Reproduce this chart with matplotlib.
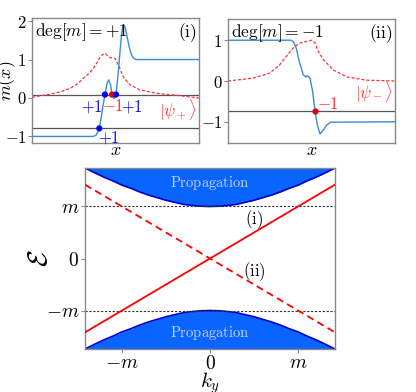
"""
Domain-wall modes: m(x) profiles for deg[m] = +1 / -1 and edge-state dispersion.
"""
import matplotlib
matplotlib.use("Agg")
import matplotlib.pyplot as plt
import numpy as np

plt.rcParams["mathtext.fontset"] = "cm"
plt.rcParams["font.family"] = "serif"
plt.rcParams["font.serif"] = ["cmr10", "DejaVu Serif"]
plt.rcParams["axes.unicode_minus"] = False

# ── Data ──────────────────────────────────────────────────────────────────────
# panel (i): mass profile and |psi_+>
x_m1 = [-5.0, -1.35, -1.17, -1.05, -0.97, -0.87, -0.75, -0.63, -0.51, -0.41,
        -0.30, -0.21, -0.09, 0.03, 0.15, 0.27, 0.37, 0.47, 0.57, 0.69, 0.81,
        0.93, 1.05, 1.23, 5.0]
m1 = [-1.0, -1.0, -0.97, -0.88, -0.78, -0.55, -0.20, 0.09, 0.38, 0.47,
      0.35, 0.09, -0.02, 0.09, 0.60, 1.20, 1.70, 1.90, 1.85, 1.60, 1.35,
      1.15, 1.05, 1.0, 1.0]
x_psi1 = [-5.0, -3.92, -3.3, -2.72, -2.3, -1.93, -1.6, -1.33, -1.1, -0.93,
          -0.78, -0.63, -0.48, -0.33, -0.03, 0.17, 0.47, 0.87, 1.47, 2.47,
          3.87, 5.0]
psi1 = [0.02, 0.10, 0.16, 0.25, 0.36, 0.51, 0.63, 0.77, 0.92, 1.06,
        1.13, 1.16, 1.10, 1.05, 1.03, 0.86, 0.55, 0.34, 0.21, 0.12,
        0.06, 0.0]
level1 = [0.09, -0.79]
zeros1_x = [-0.97, -0.63, -0.21, 0.03]
zeros1_y = [-0.79, 0.09, 0.09, 0.09]
zeros1_deg = ["+1", "+1", "-1", "+1"]

# panel (ii): mass profile and |psi_->
x_m2 = [-5.0, -1.23, -1.08, -0.91, -0.73, -0.49, -0.33, -0.25, -0.09, 0.07,
        0.21, 0.35, 0.51, 0.71, 0.91, 1.15, 5.0]
m2 = [1.0, 1.0, 0.96, 0.80, 0.47, 0.15, 0.10, 0.13, 0.07, -0.26, -0.73,
      -1.08, -1.30, -1.20, -1.08, -1.01, -1.0]
x_psi2 = [-5.0, -3.5, -2.52, -1.92, -1.52, -1.12, -0.72, -0.49, 0.01, 0.21,
          0.41, 0.71, 1.31, 2.11, 3.31, 5.0]
psi2 = [0.0, 0.07, 0.19, 0.39, 0.60, 0.80, 0.93, 0.95, 1.0, 0.93, 0.72,
        0.52, 0.27, 0.10, 0.02, 0.0]
level2 = [-0.73]
zeros2_x = [0.21]
zeros2_y = [-0.73]

# dispersion: bulk band edge and the two chiral branches
ky = [-1.42, -1.3, -1.2, -1.1, -1.0, -0.9, -0.8, -0.7, -0.6, -0.5, -0.4,
      -0.3, -0.2, -0.1, 0.0, 0.1, 0.2, 0.3, 0.4, 0.5, 0.6, 0.7, 0.8, 0.9,
      1.0, 1.1, 1.2, 1.3, 1.42]
band = [1.74, 1.64, 1.56, 1.49, 1.41, 1.35, 1.28, 1.22, 1.17, 1.12, 1.08,
        1.04, 1.02, 1.005, 1.0, 1.005, 1.02, 1.04, 1.08, 1.12, 1.17, 1.22,
        1.28, 1.35, 1.41, 1.49, 1.56, 1.64, 1.74]
branch_k = [-1.42, 1.42]
branch_i = [-1.42, 1.42]
branch_ii = [1.42, -1.42]

BLUE = "#3b8bd0"
RED = "#ff3333"
SPINE = "#888888"

fig = plt.figure(figsize=(4.16, 3.92), dpi=100)


def style(ax):
    for s in ax.spines.values():
        s.set_color(SPINE)
        s.set_linewidth(1.0)
    ax.tick_params(color=SPINE, length=3, labelsize=12, pad=1)


# ── Panel (i) ─────────────────────────────────────────────────────────────────
ax1 = fig.add_axes([32 / 416, 1 - 143 / 392, 167 / 416, 125 / 392])
for lv in level1:
    ax1.axhline(lv, color="#555555", lw=0.9, zorder=1)
ax1.plot(x_psi1, psi1, color=RED, lw=0.9, ls=(0, (2.5, 1.5)), zorder=2)
ax1.plot(x_m1, m1, color=BLUE, lw=1.0, zorder=3)
cols = ["blue" if d == "+1" else "#e00000" for d in zeros1_deg]
ax1.scatter(zeros1_x, zeros1_y, s=12, c=cols, zorder=4)
ax1.text(-0.37, -0.82, r"$+1$", color="blue", fontsize=12, ha="center", va="top")
ax1.text(-1.41, 0.0, r"$+1$", color="blue", fontsize=12, ha="center", va="top")
ax1.text(-0.15, 0.0, r"$-1$", color="#ff2222", fontsize=12, ha="center", va="top")
ax1.text(0.99, 0.0, r"$+1$", color="blue", fontsize=12, ha="center", va="top")
ax1.text(4.9, -0.3, r"$|\psi_+\rangle$", color=RED, fontsize=12, ha="right", va="center")
ax1.text(0.015, 0.97, r"$\mathrm{deg}[m]=+1$", transform=ax1.transAxes,
         fontsize=12.5, ha="left", va="top")
ax1.text(0.985, 0.97, r"$\mathrm{(i)}$", transform=ax1.transAxes,
         fontsize=12.5, ha="right", va="top")
ax1.set_xlim(-5, 5)
ax1.set_ylim(-1.17, 2.08)
ax1.set_xticks([])
ax1.set_yticks([-1, 0, 1, 2])
ax1.set_yticklabels([r"$-1$", r"$0$", r"$1$", r"$2$"])
ax1.set_xlabel(r"$x$", fontsize=13, labelpad=0)
ax1.set_ylabel(r"$m(x)$", fontsize=13)
ax1.yaxis.set_label_coords(-0.085, 0.5)
style(ax1)

# ── Panel (ii) ────────────────────────────────────────────────────────────────
ax2 = fig.add_axes([228 / 416, 1 - 143 / 392, 167 / 416, 124 / 392])
for lv in level2:
    ax2.axhline(lv, color="#555555", lw=0.9, zorder=1)
ax2.plot(x_psi2, psi2, color=RED, lw=0.9, ls=(0, (2.5, 1.5)), zorder=2)
ax2.plot(x_m2, m2, color=BLUE, lw=1.0, zorder=3)
ax2.scatter(zeros2_x, zeros2_y, s=12, c="#e00000", zorder=4)
ax2.text(0.3, -0.76, r"$-1$", color="#ff2222", fontsize=12, ha="left", va="bottom")
ax2.text(4.9, -0.28, r"$|\psi_-\rangle$", color=RED, fontsize=12, ha="right", va="center")
ax2.text(0.015, 0.97, r"$\mathrm{deg}[m]=-1$", transform=ax2.transAxes,
         fontsize=12.5, ha="left", va="top")
ax2.text(0.985, 0.97, r"$\mathrm{(ii)}$", transform=ax2.transAxes,
         fontsize=12.5, ha="right", va="top")
ax2.set_xlim(-5, 5)
ax2.set_ylim(-1.52, 1.52)
ax2.set_xticks([])
ax2.set_yticks([-1, 0, 1])
ax2.set_yticklabels([r"$-1$", r"$0$", r"$1$"])
ax2.set_xlabel(r"$x$", fontsize=13, labelpad=0)
style(ax2)

# ── Dispersion ────────────────────────────────────────────────────────────────
ax3 = fig.add_axes([85 / 416, 1 - 349 / 392, 250 / 416, 181 / 392])
band = np.array(band)
ax3.fill_between(ky, band, 2.0, color="#0a64ff", lw=0, zorder=1)
ax3.fill_between(ky, -band, -2.0, color="#0a64ff", lw=0, zorder=1)
ax3.plot(ky, band, color="#0000cc", lw=1.2, zorder=2)
ax3.plot(ky, -band, color="#0000cc", lw=1.2, zorder=2)
ax3.axhline(1, color="#333333", lw=0.8, ls=(0, (2, 1.5)), zorder=2)
ax3.axhline(-1, color="#333333", lw=0.8, ls=(0, (2, 1.5)), zorder=2)
ax3.plot(branch_k, branch_i, color="red", lw=1.3, zorder=3)
ax3.plot(branch_k, branch_ii, color="red", lw=1.3, ls=(0, (4, 2.5)), zorder=3)
ax3.text(0.5, 0.74, r"$\mathrm{(i)}$", fontsize=12, ha="center", va="center")
ax3.text(0.5, -0.25, r"$\mathrm{(ii)}$", fontsize=12, ha="center", va="center")
ax3.text(0, 1.46, r"$\mathrm{Propagation}$", fontsize=10.5, color="#c8d8ff",
         ha="center", va="center", zorder=4)
ax3.text(0, -1.43, r"$\mathrm{Propagation}$", fontsize=10.5, color="#c8d8ff",
         ha="center", va="center", zorder=4)
ax3.set_xlim(-1.42, 1.42)
ax3.set_ylim(-1.74, 1.74)
ax3.set_xticks([-1, 0, 1])
ax3.set_xticklabels([r"$-m$", r"$0$", r"$m$"])
ax3.set_yticks([-1, 0, 1])
ax3.set_yticklabels([r"$-m$", r"$0$", r"$m$"])
ax3.set_xlabel(r"$k_y$", fontsize=15)
ax3.xaxis.set_label_coords(0.5, -0.115)
ax3.set_ylabel(r"$\mathcal{E}$", fontsize=20)
ax3.yaxis.set_label_coords(-0.13, 0.5)
style(ax3)
ax3.tick_params(labelsize=14)

fig.savefig("out.png", dpi=100)
